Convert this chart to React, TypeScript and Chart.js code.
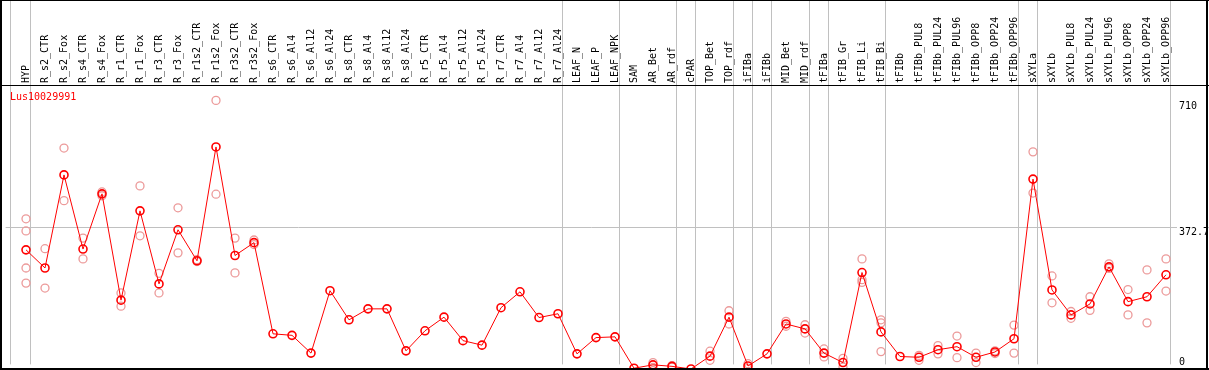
import React, { useEffect, useRef } from "react";
import { Chart, registerables } from "chart.js";

Chart.register(...registerables);

const categories = [
  "HYP", "R_s2_CTR", "R_s2_Fox", "R_s4_CTR", "R_s4_Fox", "R_r1_CTR", "R_r1_Fox", "R_r3_CTR", "R_r3_Fox",
  "R_r1s2_CTR", "R_r1s2_Fox", "R_r3s2_CTR", "R_r3s2_Fox", "R_s6_CTR", "R_s6_Al4", "R_s6_Al12", "R_s6_Al24",
  "R_s8_CTR", "R_s8_Al4", "R_s8_Al12", "R_s8_Al24", "R_r5_CTR", "R_r5_Al4", "R_r5_Al12", "R_r5_Al24",
  "R_r7_CTR", "R_r7_Al4", "R_r7_Al12", "R_r7_Al24", "LEAF_N", "LEAF_P", "LEAF_NPK", "SAM", "AR_Bet", "AR_rdf",
  "cPAR", "TOP_Bet", "TOP_rdf", "iFIBa", "iFIBb", "MID_Bet", "MID_rdf", "tFIBa", "tFIB_Gr", "tFIB_Li", "tFIB_Bi",
  "tFIBb", "tFIBb_PUL8", "tFIBb_PUL24", "tFIBb_PUL96", "tFIBb_OPP8", "tFIBb_OPP24", "tFIBb_OPP96",
  "sXYLa", "sXYLb", "sXYLb_PUL8", "sXYLb_PUL24", "sXYLb_PUL96", "sXYLb_OPP8", "sXYLb_OPP24", "sXYLb_OPP96",
];

const means = [
  315, 267, 513, 317, 463, 182, 418, 225, 368, 286, 587, 300, 334, 93, 89, 42, 207, 130, 159, 159, 48,
  101, 137, 75, 63, 162, 204, 136, 146, 40, 83, 85, 2, 11, 7, 0, 34, 137, 8, 40, 119, 106, 42, 17, 255,
  98, 33, 31, 51, 59, 31, 45, 80, 502, 209, 143, 172, 270, 178, 191, 249,
];

const replicates: number[][] = [
  [397, 365, 267, 227], [318, 214], [584, 445], [346, 291], [458, 468], [201, 166], [484, 352], [253, 201],
  [426, 307], [284, 289], [710, 462], [346, 254], [341, 329], [], [], [], [], [], [], [], [], [], [], [], [],
  [], [], [], [], [], [], [], [], [17, 4], [9, 5], [], [47, 23], [154, 119], [14, 2], [], [126, 113],
  [117, 95], [53, 32], [28, 5], [291, 236, 229], [130, 122, 46], [], [36, 23], [62, 40], [87, 30], [42, 17],
  [48, 41], [116, 42], [574, 465], [246, 175], [152, 134], [191, 155], [278, 266], [210, 143], [262, 122],
  [291, 206],
];

// index of last category in each group (a separator is drawn after it)
const groupEnds = [0, 28, 31, 34, 35, 37, 38, 39, 41, 42, 45, 52, 53, 60];

const yTickValues = [0, 372.7, 710];
const yTickLabels = ["0", "372.7", "710"];
const geneName = "Lus10029991";

const FONT = "'DejaVu Sans Mono', monospace";

// layout targets (pixels)
const X_FIRST_PX = 26;
const X_STEP_PX = 19;
const Y_ZERO_PX = 369;
const Y_MID_PX = 228;

export default function App() {
  const ref = useRef<HTMLCanvasElement | null>(null);

  useEffect(() => {
    document.body.style.margin = "0";
    const canvas = ref.current;
    if (!canvas) return;

    const meanPts = means.map((v, i) => ({ x: i, y: v }));
    const repPts: { x: number; y: number }[] = [];
    replicates.forEach((arr, i) => arr.forEach((v) => repPts.push({ x: i, y: v })));

    const labelOffsets = [-7, 4, 6.5];

    const framePlugin = {
      id: "frame",
      beforeDatasetsDraw(chart: any) {
        const ctx = chart.ctx;
        const xs = chart.scales.x;
        const ca = chart.chartArea;
        ctx.save();
        ctx.strokeStyle = "#c0c0c0";
        ctx.lineWidth = 1;
        const xsList = [Math.round(xs.getPixelForValue(0)) - 15.5].concat(
          groupEnds.map((g) => Math.round(xs.getPixelForValue(g)) + 4.5)
        );
        xsList.forEach((x) => {
          ctx.beginPath();
          ctx.moveTo(x, 0);
          ctx.lineTo(x, ca.bottom);
          ctx.stroke();
        });
        ctx.restore();
      },
      afterDraw(chart: any) {
        const ctx = chart.ctx;
        const ys = chart.scales.y;
        const W = chart.width;
        const H = chart.height;
        ctx.save();
        // y tick labels
        ctx.fillStyle = "#000";
        ctx.font = "10px " + FONT;
        ctx.textAlign = "left";
        ctx.textBaseline = "middle";
        yTickValues.forEach((v, i) => {
          ctx.fillText(yTickLabels[i], ys.left + 2, ys.getPixelForValue(v) + labelOffsets[i]);
        });
        // frame
        ctx.fillRect(0, 0, W, 1);
        ctx.fillRect(0, 0, 2, H);
        ctx.fillRect(0, H - 2, W, 2);
        ctx.fillRect(1206, 0, 2, H);
        ctx.fillRect(0, 85, W, 1);
        // gene name
        ctx.fillStyle = "#ff0000";
        ctx.textBaseline = "alphabetic";
        ctx.fillText(geneName, 10, 100);
        ctx.restore();
      },
    };

    const chart = new Chart(canvas, {
      type: "scatter",
      data: {
        datasets: [
          {
            data: meanPts,
            showLine: true,
            borderColor: "#ff0000",
            borderWidth: 1,
            pointRadius: 4,
            pointBorderWidth: 1.6,
            pointBorderColor: "#ff0000",
            pointBackgroundColor: "rgba(0,0,0,0)",
            clip: false,
          } as any,
          {
            data: repPts,
            showLine: false,
            pointRadius: 4,
            pointBorderWidth: 1.3,
            pointBorderColor: "#ec9a9a",
            pointBackgroundColor: "rgba(0,0,0,0)",
            clip: false,
          } as any,
        ],
      },
      options: {
        responsive: false,
        animation: false,
        devicePixelRatio: 1,
        layout: { padding: { left: 1, right: 2, top: 0, bottom: 1 } },
        plugins: { legend: { display: false }, tooltip: { enabled: false } },
        scales: {
          x: {
            type: "linear",
            position: "top",
            min: -1.3,
            max: 60.6,
            afterBuildTicks: (s: any) => {
              s.ticks = categories.map((_, i) => ({ value: i }));
            },
            afterFit: (s: any) => {
              s.height = 85;
            },
            grid: { display: false, drawTicks: false },
            border: { display: false },
            ticks: {
              autoSkip: false,
              minRotation: 90,
              maxRotation: 90,
              padding: 2,
              labelOffset: 12,
              color: "#000",
              font: { family: FONT, size: 10 },
              callback: (v: any) => categories[v as number] ?? "",
            },
          },
          y: {
            type: "linear",
            position: "right",
            min: 0,
            max: 750,
            afterBuildTicks: (s: any) => {
              s.ticks = yTickValues.map((v) => ({ value: v }));
            },
            afterFit: (s: any) => {
              s.width = 30;
            },
            grid: {
              drawTicks: false,
              color: (c: any) => (c.tick && c.tick.value === 372.7 ? "#c0c0c0" : "rgba(0,0,0,0)"),
            },
            border: { display: false },
            ticks: { display: false },
          },
        },
      },
      plugins: [framePlugin],
    });

    // second pass: map values to the intended pixel grid inside the resolved chart area
    const ca = chart.chartArea;
    const k = (Y_ZERO_PX - Y_MID_PX) / yTickValues[1];
    const opts: any = chart.options.scales;
    opts.x.min = (ca.left - X_FIRST_PX) / X_STEP_PX;
    opts.x.max = (ca.right - X_FIRST_PX) / X_STEP_PX;
    opts.y.min = (Y_ZERO_PX - ca.bottom) / k;
    opts.y.max = (Y_ZERO_PX - ca.top) / k;
    chart.update();

    return () => chart.destroy();
  }, []);

  return <canvas ref={ref} width={1209} height={370} style={{ display: "block" }} />;
}
